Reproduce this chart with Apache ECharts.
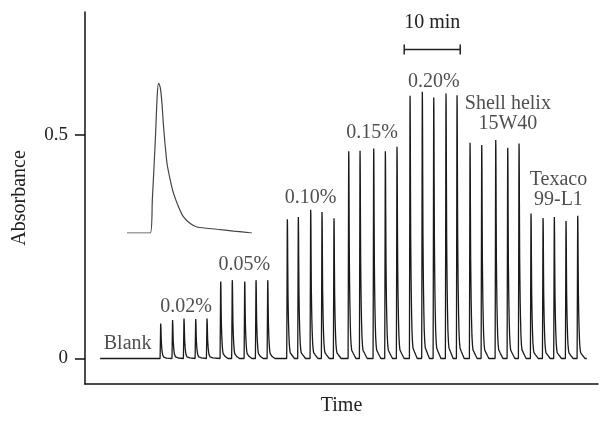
<!DOCTYPE html>
<html><head><meta charset="utf-8">
<script src="https://cdn.jsdelivr.net/npm/echarts@6/dist/echarts.min.js"></script>
<style>html,body{margin:0;padding:0;background:#fff}#c{width:600px;height:421px}</style>
</head><body><div id="c"></div>
<script>
// ---- data (time in minutes, absorbance) ----
const groupLabels = ['0.02%', '0.05%', '0.10%', '0.15%', '0.20%', 'Shell helix\n15W40', 'Texaco\n99-L1'];
const times_002 = [13.52, 15.64, 17.68, 19.77, 21.79];
const heights_002 = [0.078, 0.086, 0.089, 0.088, 0.089];
const times_005 = [24.23, 26.30, 28.52, 30.54, 32.63];
const heights_005 = [0.172, 0.175, 0.172, 0.175, 0.175];
const times_010 = [36.13, 38.09, 40.30, 42.32, 44.46];
const heights_010 = [0.311, 0.316, 0.332, 0.327, 0.313];
const times_015 = [47.09, 49.11, 51.55, 53.63, 55.71];
const heights_015 = [0.463, 0.464, 0.469, 0.463, 0.473];
const times_020 = [58.04, 60.23, 62.27, 64.46, 66.43];
const heights_020 = [0.587, 0.596, 0.583, 0.592, 0.588];
const times_shell = [68.75, 70.84, 73.34, 75.48, 77.50];
const heights_shell = [0.482, 0.477, 0.488, 0.471, 0.480];
const times_texaco = [79.64, 81.79, 83.80, 85.89, 87.98];
const heights_texaco = [0.324, 0.314, 0.316, 0.307, 0.319];
const blankStart = 2.7;
const traceEnd = 89.6;
const yTickValues = [0, 0.5];
// inset: single peak profile (time in s, normalised signal)
const insetTime = [0, 31.9, 34.7, 38.8, 41.5, 43.3, 45.6, 47.9, 50.1, 54.8, 59.3, 63.8, 70.7, 77.5, 86.7, 95.9, 123.3, 146.0, 171.3];
const insetSignal = [0, 0, 0.219, 0.62, 0.924, 1.0, 0.969, 0.866, 0.709, 0.465, 0.353, 0.264, 0.174, 0.107, 0.063, 0.040, 0.025, 0.013, 0];
const scaleBarStart = 57.0;
const scaleBarMinutes = 10;

// ---- build ----
const FONT = 'Liberation Serif';
const groupTimes = [times_002, times_005, times_010, times_015, times_020, times_shell, times_texaco];
const groupHeights = [heights_002, heights_005, heights_010, heights_015, heights_020, heights_shell, heights_texaco];
const allTimes = [].concat(...groupTimes);
const allHeights = [].concat(...groupHeights);

const insetTimeScale = 0.010; // min per inset unit
let pk = insetSignal.indexOf(Math.max(...insetSignal));
const template = [];
for (let i = 1; i < insetTime.length; i++) template.push([(insetTime[i] - insetTime[pk]) * insetTimeScale, insetSignal[i]]);

const trace = [[blankStart, 0]];
for (let k = 0; k < allTimes.length; k++) {
  const nextStart = k + 1 < allTimes.length ? allTimes[k + 1] + template[0][0] : traceEnd;
  for (const [dt, v] of template) {
    const t = allTimes[k] + dt;
    if (t >= nextStart) break;
    trace.push([t, allHeights[k] * v]);
  }
}
trace.push([traceEnd, 0]);

const labelOffsets = [[2, -12], [0, -15], [0, -12], [-1, -14], [0, -10], [13, -26], [4, -24]];
const annot = groupLabels.map((lab, g) => {
  const ts = groupTimes[g];
  const mean = ts.reduce((a, b) => a + b, 0) / ts.length;
  return {value: [mean, Math.max(...groupHeights[g])], name: lab, label: {offset: labelOffsets[g]}};
});
annot.push({value: [(blankStart + times_002[0]) / 2 - 0.5, 0], name: 'Blank', label: {offset: [0, -15]}});

const chart = echarts.init(document.getElementById('c'), null, {renderer: 'canvas'});
chart.setOption({
  animation: false,
  backgroundColor: '#fff',
  grid: [
    {left: 85, right: 2, top: 12, bottom: 30},
    {left: 127, top: 83, width: 125, height: 150}
  ],
  xAxis: [
    {type: 'value', min: 0, max: 91.6, name: 'Time', nameLocation: 'middle', nameGap: 12,
     nameTextStyle: {fontFamily: FONT, fontSize: 20, color: '#222'},
     axisLine: {show: true, onZero: false, lineStyle: {color: '#111', width: 1.5}},
     axisTick: {show: false}, axisLabel: {show: false}, splitLine: {show: false}},
    {type: 'value', gridIndex: 1, min: 0, max: 171.3, show: false}
  ],
  yAxis: [
    {type: 'value', min: -0.057, max: 0.774, name: 'Absorbance', nameLocation: 'middle', nameGap: 55,
     nameTextStyle: {fontFamily: FONT, fontSize: 20, color: '#222'},
     axisLine: {show: true, onZero: false, lineStyle: {color: '#111', width: 1.5}},
     axisTick: {show: true, length: 10, customValues: yTickValues, lineStyle: {color: '#111', width: 1.5}},
     axisLabel: {show: true, customValues: yTickValues, margin: 17, fontFamily: FONT, fontSize: 19, color: '#222'},
     splitLine: {show: false}},
    {type: 'value', gridIndex: 1, min: 0, max: 1, show: false}
  ],
  series: [
    {type: 'line', data: trace, symbol: 'none', sampling: null, lineStyle: {color: '#1a1a1a', width: 1.3}},
    {type: 'line', xAxisIndex: 1, yAxisIndex: 1, data: insetTime.map((t, i) => [t, insetSignal[i]]),
     symbol: 'none', smooth: 0.25, lineStyle: {color: '#444', width: 1.2}},
    {type: 'scatter', data: annot, symbolSize: 0, silent: true,
     label: {show: true, position: 'inside', formatter: p => p.name, fontFamily: FONT, fontSize: 20,
             color: '#222', lineHeight: 20, align: 'center'}},
    {type: 'custom', silent: true, data: [[scaleBarStart, 0.69]],
     renderItem: (params, api) => {
       const p0 = api.coord([scaleBarStart, 0.69]);
       const p1 = api.coord([scaleBarStart + scaleBarMinutes, 0.69]);
       const st = {stroke: '#222', lineWidth: 1.5};
       return {type: 'group', children: [
         {type: 'line', shape: {x1: p0[0], y1: p0[1], x2: p1[0], y2: p1[1]}, style: st},
         {type: 'line', shape: {x1: p0[0], y1: p0[1] - 5, x2: p0[0], y2: p0[1] + 5}, style: st},
         {type: 'line', shape: {x1: p1[0], y1: p1[1] - 5, x2: p1[0], y2: p1[1] + 5}, style: st},
         {type: 'text', x: (p0[0] + p1[0]) / 2, y: p0[1] - 27,
          style: {text: '10 min', align: 'center', verticalAlign: 'middle', font: '20px "Liberation Serif"', fill: '#222'}}
       ]};
     }}
  ]
});
</script></body></html>
